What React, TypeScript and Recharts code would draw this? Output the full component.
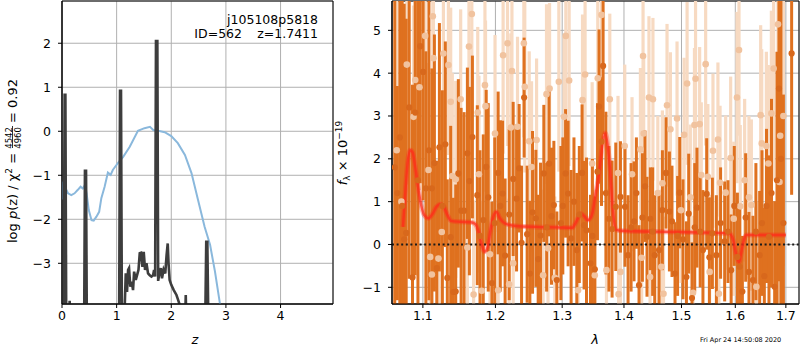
import { CartesianGrid, ComposedChart, ErrorBar, Line, ReferenceArea, ReferenceLine, Scatter, XAxis, YAxis } from "recharts";

// ---- left panel: log p(z) and chi2 curve ----
const pzZ = [0.03, 0.048, 0.062, 0.078, 0.125, 0.14, 0.155, 0.405, 0.42, 0.44, 0.455, 1.045, 1.062, 1.08, 1.097, 1.14, 1.15, 1.167, 1.19, 1.21, 1.227, 1.25, 1.277, 1.3, 1.32, 1.35, 1.374, 1.4, 1.423, 1.447, 1.472, 1.496, 1.52, 1.546, 1.575, 1.606, 1.637, 1.667, 1.685, 1.705, 1.72, 1.745, 1.76, 1.777, 1.81, 1.83, 1.86, 1.89, 1.915, 1.935, 1.95, 1.97, 2.0, 2.045, 2.095, 2.125, 2.156, 2.2, 2.25, 2.265, 2.28, 2.62, 2.64, 2.66, 2.68];
const pzLog = [-4.5, 0.83, 0.83, -4.5, -4.5, -3.85, -4.5, -4.5, -0.9, -0.9, -4.5, -4.5, 0.92, 0.92, -4.5, -4.5, -3.91, -3.23, -3.65, -3.15, -3.11, -3.53, -3.42, -3.61, -3.19, -3.38, -3.27, -3.15, -2.77, -2.76, -3.08, -2.74, -3.15, -3.0, -3.23, -3.27, -3.3, -3.27, -3.15, -3.3, 2.05, 2.05, -3.4, -3.27, -3.11, -3.34, -3.14, -3.23, -2.8, -2.55, -3.0, -3.38, -3.49, -3.61, -3.72, -3.83, -3.95, -4.5, -4.5, -3.72, -4.5, -4.5, -2.51, -2.51, -4.5];

const chiZ = [0, 0.02, 0.05, 0.11, 0.17, 0.23, 0.29, 0.34, 0.38, 0.42, 0.45, 0.49, 0.54, 0.58, 0.63, 0.68, 0.72, 0.78, 0.84, 0.89, 0.93, 1.03, 1.12, 1.24, 1.39, 1.51, 1.61, 1.67, 1.76, 1.88, 2.0, 2.12, 2.25, 2.37, 2.49, 2.61, 2.71, 2.8, 2.89, 2.95];
const chiVal = [-1.55, -1.2, -1.26, -1.41, -1.45, -1.41, -1.33, -1.26, -1.3, -1.22, -1.41, -1.79, -2.02, -2.03, -1.94, -1.83, -1.52, -1.26, -0.94, -0.99, -0.88, -0.71, -0.58, -0.35, 0.01, 0.07, 0.1, 0.03, 0.01, -0.02, -0.11, -0.27, -0.54, -0.95, -1.56, -2.17, -2.58, -3.19, -3.91, -4.4];

const zTicks = [0, 1, 2, 3, 4];
const logTicks = [-3, -2, -1, 0, 1, 2];

// ---- right panel: spectrum ----
const darkWave = [1.0635, 1.0668, 1.07, 1.073, 1.0756, 1.0782, 1.0821, 1.0864, 1.0899, 1.0935, 1.0965, 1.1003, 1.104, 1.108, 1.1119, 1.1153, 1.1185, 1.122, 1.126, 1.13, 1.1327, 1.1373, 1.1409, 1.1442, 1.1478, 1.1516, 1.1557, 1.1603, 1.1631, 1.1673, 1.1742, 1.178, 1.1826, 1.1868, 1.1897, 1.195, 1.199, 1.2039, 1.207, 1.2103, 1.214, 1.22, 1.2258, 1.2308, 1.2346, 1.2382, 1.242, 1.2465, 1.2506, 1.2546, 1.2596, 1.2631, 1.2667, 1.2717, 1.276, 1.2798, 1.2835, 1.2871, 1.2917, 1.298, 1.301, 1.3053, 1.3093, 1.314, 1.3185, 1.323, 1.327, 1.3314, 1.3346, 1.3385, 1.3449, 1.348, 1.3519, 1.3562, 1.3588, 1.3628, 1.3654, 1.37, 1.375, 1.3802, 1.3863, 1.3941, 1.4017, 1.4069, 1.412, 1.417, 1.421, 1.4255, 1.4313, 1.4358, 1.4392, 1.445, 1.449, 1.4526, 1.4601, 1.466, 1.4724, 1.4784, 1.483, 1.4884, 1.493, 1.4968, 1.5027, 1.5089, 1.513, 1.519, 1.524, 1.5281, 1.534, 1.5391, 1.546, 1.551, 1.5566, 1.5641, 1.572, 1.5797, 1.586, 1.592, 1.598, 1.604, 1.6084, 1.6136, 1.62, 1.6264, 1.6342, 1.64, 1.6474, 1.652, 1.6567, 1.661, 1.6659, 1.671, 1.6773, 1.682, 1.686, 1.69, 1.695, 1.7118];
const darkFlux = [1.8, 1.2, 2.5, 0.9, 0.12, 0.27, 3.2, -0.77, 3.08, 1.5, 4.63, 4.03, 1.31, 2.2, 1.31, 1.9, -0.55, 2.27, 0.9, 2.34, -0.78, 0.17, -1.11, -1.1, 1.66, 0.79, 0.79, 2.13, 1.48, 2.51, 1.15, 0.2, 0.57, 1.81, 1.1, -0.9, 0.5, 1.67, 0.9, 1.19, -0.26, 0.7, 1.53, 1.07, 1.78, 0.04, 3.43, 0.24, -0.68, 0.75, 0.61, -0.34, 0.21, 1.66, 0.4, 1.89, 0.66, 0.92, -0.83, 0.5, 0.9, 1.66, 1.19, 0.14, 1.0, -0.13, 0.7, 1.67, 0.45, 0.33, -0.44, 0.2, -0.58, 1.7, 3.22, 2.4, 4.17, 1.2, 0.6, 0.36, 0.88, 1.11, 0.88, -0.25, 0.4, 0.54, 1.2, -0.95, 0.63, 1.36, 0.18, 0.6, 0.3, -0.25, -0.13, 0.8, 1.67, 0.77, 0.54, -0.68, 0.2, 1.21, 0.12, -0.76, 0.72, -1.25, 0.4, 0.86, 0.3, -0.13, 1.18, -0.3, 0.26, -0.25, 0.5, 0.07, 0.3, -0.6, 0.9, -0.29, -0.52, -1.1, 0.63, -0.64, -0.83, 0.3, -0.25, 0.5, -0.74, 0.9, 0.18, 1.2, -0.99, 1.5, 3.64, 2.0, 0.5, 4.46];
const darkErr = [5.5, 2.5, 5.0, 4.8, 5.5, 5.0, 4.0, 4.5, 3.8, 4.5, 3.2, 3.0, 3.2, 3.5, 2.8, 3.0, 2.5, 2.9, 2.7, 2.4, 2.3, 2.6, 2.2, 2.5, 2.2, 2.4, 2.3, 2.0, 2.2, 1.9, 2.1, 2.0, 2.0, 1.8, 2.2, 1.9, 2.0, 1.9, 2.0, 1.7, 1.8, 2.0, 1.8, 1.7, 1.5, 1.8, 1.4, 1.6, 1.7, 1.9, 1.6, 1.5, 1.7, 1.6, 1.5, 1.7, 1.6, 1.5, 1.6, 1.8, 1.6, 1.5, 1.7, 1.6, 1.5, 1.8, 1.6, 1.6, 1.5, 1.7, 1.6, 1.8, 1.7, 1.6, 1.8, 1.5, 1.6, 1.9, 1.7, 1.6, 1.5, 1.3, 1.4, 1.4, 1.5, 1.4, 1.3, 1.4, 1.5, 1.3, 1.4, 1.2, 1.5, 1.4, 1.3, 1.4, 1.3, 1.4, 1.3, 1.2, 1.4, 1.3, 1.4, 1.3, 1.4, 1.3, 1.5, 1.4, 1.3, 1.4, 1.3, 1.4, 1.3, 1.4, 1.3, 1.4, 1.2, 1.3, 1.4, 1.5, 1.4, 1.3, 1.5, 1.4, 1.5, 1.6, 1.5, 1.7, 1.6, 1.8, 1.9, 2.2, 2.0, 3.0, 4.5, 5.0, 3.0, 3.3];

const lightWave = [1.066, 1.072, 1.079, 1.0877, 1.0899, 1.0955, 1.103, 1.1074, 1.1097, 1.1119, 1.1132, 1.114, 1.1207, 1.1252, 1.1274, 1.1342, 1.1373, 1.1395, 1.1442, 1.151, 1.1603, 1.1625, 1.1665, 1.169, 1.1748, 1.1765, 1.1804, 1.185, 1.1858, 1.1922, 1.1994, 1.2039, 1.2111, 1.2175, 1.2199, 1.2224, 1.224, 1.2258, 1.2322, 1.2416, 1.243, 1.2496, 1.2531, 1.2607, 1.2706, 1.2758, 1.2781, 1.2805, 1.2886, 1.2948, 1.303, 1.3057, 1.3109, 1.325, 1.3321, 1.3362, 1.3476, 1.3519, 1.3567, 1.3628, 1.3709, 1.3764, 1.39, 1.391, 1.3941, 1.4013, 1.4136, 1.4279, 1.43, 1.4324, 1.4335, 1.4426, 1.4445, 1.4495, 1.458, 1.4643, 1.466, 1.468, 1.4742, 1.4802, 1.492, 1.499, 1.5047, 1.5101, 1.516, 1.5209, 1.5235, 1.5255, 1.533, 1.536, 1.5441, 1.5482, 1.5515, 1.5577, 1.567, 1.5688, 1.571, 1.5816, 1.5911, 1.597, 1.6032, 1.6071, 1.6095, 1.618, 1.6264, 1.6311, 1.6409, 1.6494, 1.6515, 1.6607, 1.6647, 1.6707, 1.6753, 1.684, 1.687, 1.6885, 1.695];
const lightFlux = [2.2, 1.0, 4.2, 2.98, 3.84, 3.67, 4.87, 1.74, -0.29, -0.7, 5.33, 4.35, -0.33, 0.29, 4.46, 4.19, 3.33, 1.6, 1.52, 3.39, -0.07, 4.62, 5.38, -1.17, 3.08, 1.64, -1.08, 3.72, 3.23, -0.23, 2.59, -1.07, 4.42, 4.7, -0.93, 2.73, 4.05, -0.44, 2.75, 4.7, 3.68, 2.41, 1.81, 2.44, -0.72, 3.51, -0.09, 3.64, -0.78, 3.8, 2.98, 4.87, 3.83, -1.07, 3.37, 3.97, 1.89, -0.72, 3.88, 5.36, -0.6, 3.39, 1.67, -1.16, -0.64, 2.3, 1.64, 2.22, -0.31, 4.4, 2.59, 3.43, -0.76, 3.39, 1.2, -0.52, 1.43, -1.15, 3.25, 2.69, 2.94, 0.8, 2.56, 3.76, 1.1, -1.13, 2.79, 3.87, 2.81, 1.62, 4.21, 1.58, -0.64, 2.19, 2.45, -1.15, 1.44, 1.21, 2.02, 0.6, 3.43, 4.54, 0.89, 1.5, 1.1, 0.92, -0.99, 3.02, 2.36, 2.3, 1.89, 3.06, 4.11, 5.14, 1.46, 2.54, 3.0];
const lightErr = [3.5, 3.2, 2.8, 2.6, 2.5, 2.4, 2.2, 2.5, 2.4, 2.2, 2.6, 2.4, 2.3, 2.2, 2.3, 2.1, 2.2, 2.4, 2.3, 2.1, 2.3, 2.2, 2.5, 2.2, 2.0, 2.3, 2.1, 2.2, 2.0, 2.2, 2.3, 2.1, 2.3, 2.4, 2.0, 2.2, 2.1, 2.0, 2.1, 2.2, 2.0, 2.1, 2.0, 1.9, 2.0, 2.1, 1.9, 2.0, 1.9, 2.1, 1.9, 2.2, 2.0, 1.9, 2.0, 2.1, 1.9, 2.0, 2.1, 2.2, 1.9, 2.0, 1.8, 1.9, 1.8, 1.9, 1.8, 1.9, 1.8, 2.0, 1.8, 1.9, 1.8, 1.9, 1.8, 1.8, 1.7, 1.8, 1.9, 1.8, 1.8, 1.7, 1.8, 1.9, 1.7, 1.8, 1.8, 1.9, 1.8, 1.7, 1.9, 1.7, 1.8, 1.8, 1.8, 1.7, 1.8, 1.8, 1.9, 1.8, 2.0, 2.0, 1.9, 1.9, 1.9, 2.0, 2.0, 2.1, 2.2, 2.2, 2.3, 2.4, 2.6, 2.8, 3.0, 3.2, 3.5];

const modelWave = [1.074, 1.077, 1.08, 1.0835, 1.0865, 1.09, 1.094, 1.098, 1.102, 1.1074, 1.113, 1.118, 1.123, 1.128, 1.133, 1.138, 1.15, 1.165, 1.171, 1.176, 1.18, 1.1845, 1.189, 1.193, 1.197, 1.2015, 1.206, 1.2139, 1.23, 1.26, 1.29, 1.3158, 1.321, 1.3296, 1.335, 1.3403, 1.345, 1.349, 1.352, 1.3593, 1.364, 1.369, 1.373, 1.3764, 1.3809, 1.3863, 1.395, 1.45, 1.533, 1.5885, 1.5959, 1.601, 1.6071, 1.612, 1.6165, 1.6212, 1.7];
const modelFlux = [0.41, 1.2, 1.9, 2.2, 2.15, 1.8, 1.3, 0.9, 0.68, 0.61, 0.72, 0.88, 0.94, 0.88, 0.68, 0.55, 0.53, 0.52, 0.48, 0.3, 0.02, -0.17, -0.05, 0.35, 0.65, 0.76, 0.62, 0.49, 0.43, 0.41, 0.4, 0.39, 0.5, 0.72, 0.66, 0.57, 0.62, 0.8, 1.08, 1.7, 2.3, 2.6, 2.3, 1.82, 0.9, 0.35, 0.32, 0.3, 0.28, 0.26, 0.1, -0.2, -0.41, -0.15, 0.1, 0.22, 0.22];

const waveTicks = [1.1, 1.2, 1.3, 1.4, 1.5, 1.6, 1.7];
const fluxTicks = [-1, 0, 1, 2, 3, 4, 5];

const ZX: [number, number] = [0, 4.96];
const ZY: [number, number] = [-3.925, 2.96];
const WX: [number, number] = [1.06, 1.727];
const WY: [number, number] = [-1.39, 5.685];

const pzData = pzZ.map((x, i) => ({ x, y: pzLog[i] }));
const chiData = chiZ.map((x, i) => ({ x, y: chiVal[i] }));
// error bars are cut at the plot frame, like matplotlib's clipping
const clipErr = (y: number, e: number) => [Math.min(e, y - WY[0]), Math.min(e, WY[1] - y)];
const darkData = darkWave.map((x, i) => ({ x, y: darkFlux[i], e: clipErr(darkFlux[i], darkErr[i]) }));
const lightData = lightWave.map((x, i) => ({ x, y: lightFlux[i], e: clipErr(lightFlux[i], lightErr[i]) }));
const modelData = modelWave.map((x, i) => ({ x, y: modelFlux[i] }));

const FONT = "DejaVu Sans";
const tickStyle = { fill: "#000", fontSize: 12.5, fontFamily: FONT };
const minus = (v: number) => (v < 0 ? `\u2212${Math.abs(v)}` : `${v}`);

function AxisTitle({ cx, text }: { cx: number; text: string }) {
    return <text x={cx} y={344} textAnchor="middle" fontFamily={FONT} fontSize={13} fontStyle="italic">{text}</text>;
}

function LeftYLabel() {
    return (
        <g transform="translate(17,243) rotate(-90)" fontFamily={FONT} fontSize={13}>
            <text x={0} y={0}>
                log <tspan fontStyle="italic">p</tspan>(z) / χ<tspan dy={-5} fontSize={9}>2</tspan>
                <tspan dy={5}> = </tspan>
                <tspan dy={-5} fontSize={8.5}>4542</tspan>
                <tspan dx={-21.6} dy={9} fontSize={8.5}>4960</tspan>
                <tspan dy={-4}> = 0.92</tspan>
            </text>
            <line x1={95} x2={117} y1={-4.5} y2={-4.5} stroke="#000" strokeWidth={0.8} />
        </g>
    );
}

function RightYLabel() {
    return (
        <text transform="translate(347,153) rotate(-90)" textAnchor="middle" fontFamily={FONT} fontSize={13}>
            <tspan fontStyle="italic">f</tspan>
            <tspan dy={3} fontSize={9}>λ</tspan>
            <tspan dy={-3}> × 10</tspan>
            <tspan dy={-5} fontSize={9}>−19</tspan>
        </text>
    );
}

export default function App() {
    return (
        <div style={{ position: "fixed", left: 0, top: 0, width: 800, height: 350, background: "#fff" }}>
            <div style={{ position: "absolute", left: 0, top: 0 }}>
                <ComposedChart width={800} height={350} margin={{ top: 1, right: 467, bottom: 45, left: 61 }}>
                    <CartesianGrid stroke="#b0b0b0" strokeWidth={1} />
                    <XAxis dataKey="x" type="number" domain={ZX} ticks={zTicks} allowDataOverflow height={1}
                        tick={tickStyle} tickSize={4} tickMargin={3} stroke="#000"
                        label={() => <AxisTitle cx={195} text="z" />} />
                    <YAxis type="number" domain={ZY} ticks={logTicks} allowDataOverflow width={1}
                        tick={tickStyle} tickSize={4} tickMargin={7} stroke="#000" tickFormatter={minus}
                        label={<LeftYLabel />} />
                    <Line data={chiData} dataKey="y" type="linear" stroke="#8ab8dc" strokeWidth={2} dot={false} isAnimationActive={false} />
                    <Line data={pzData} dataKey="y" type="linear" stroke="#3d3d3d" strokeWidth={2.6} dot={false} isAnimationActive={false} />
                    <ReferenceArea x1={ZX[0]} x2={ZX[1]} y1={ZY[0]} y2={ZY[1]} fill="none" stroke="#000" strokeWidth={1} ifOverflow="visible" />
                    <text x={318} y={24} textAnchor="end" fontFamily={FONT} fontSize={12.5}>j105108p5818</text>
                    <text x={242} y={38} textAnchor="end" fontFamily={FONT} fontSize={12.5}>ID=562</text>
                    <text x={318} y={38} textAnchor="end" fontFamily={FONT} fontSize={12.5}>z=1.7411</text>
                </ComposedChart>
            </div>
            <div style={{ position: "absolute", left: 0, top: 0 }}>
                <ComposedChart width={800} height={350} margin={{ top: 1, right: 1, bottom: 45, left: 391 }}>
                    <CartesianGrid stroke="#b0b0b0" strokeWidth={1} />
                    <XAxis dataKey="x" type="number" scale="log" domain={WX} ticks={waveTicks} allowDataOverflow height={1}
                        tick={tickStyle} tickSize={4} tickMargin={3} stroke="#000" tickFormatter={(v: number) => v.toFixed(1)}
                        label={() => <AxisTitle cx={595} text="λ" />} />
                    <YAxis type="number" domain={WY} ticks={fluxTicks} allowDataOverflow width={1}
                        tick={tickStyle} tickSize={4} tickMargin={7} stroke="#000" tickFormatter={minus}
                        label={<RightYLabel />} />
                    <Scatter data={lightData} dataKey="y" isAnimationActive={false}
                        shape={(p: any) => <circle cx={p.cx} cy={p.cy} r={3.3} fill="#f1c39f" />}>
                        <ErrorBar dataKey="e" direction="y" width={0} strokeWidth={3.2} stroke="#f7dac2" isAnimationActive={false} />
                    </Scatter>
                    <Scatter data={darkData} dataKey="y" isAnimationActive={false}
                        shape={(p: any) => <circle cx={p.cx} cy={p.cy} r={3.1} fill="#d8681c" />}>
                        <ErrorBar dataKey="e" direction="y" width={0} strokeWidth={3} stroke="#df711f" isAnimationActive={false} />
                    </Scatter>
                    <ReferenceLine y={0} stroke="#1a1a1a" strokeWidth={2} strokeDasharray="2 2.6" />
                    <Line data={modelData} dataKey="y" type="monotone" stroke="#ff2a1a" strokeOpacity={0.35} strokeWidth={5} dot={false} isAnimationActive={false} />
                    <Line data={modelData} dataKey="y" type="monotone" stroke="#ff2a1a" strokeOpacity={0.7} strokeWidth={2.4} dot={false} isAnimationActive={false} />
                    <ReferenceArea x1={WX[0]} x2={WX[1]} y1={WY[0]} y2={WY[1]} fill="none" stroke="#000" strokeWidth={1} ifOverflow="visible" />
                    <text x={700} y={342} fontFamily={FONT} fontSize={6.5}>Fri Apr 24 14:50:08 2020</text>
                </ComposedChart>
            </div>
        </div>
    );
}
